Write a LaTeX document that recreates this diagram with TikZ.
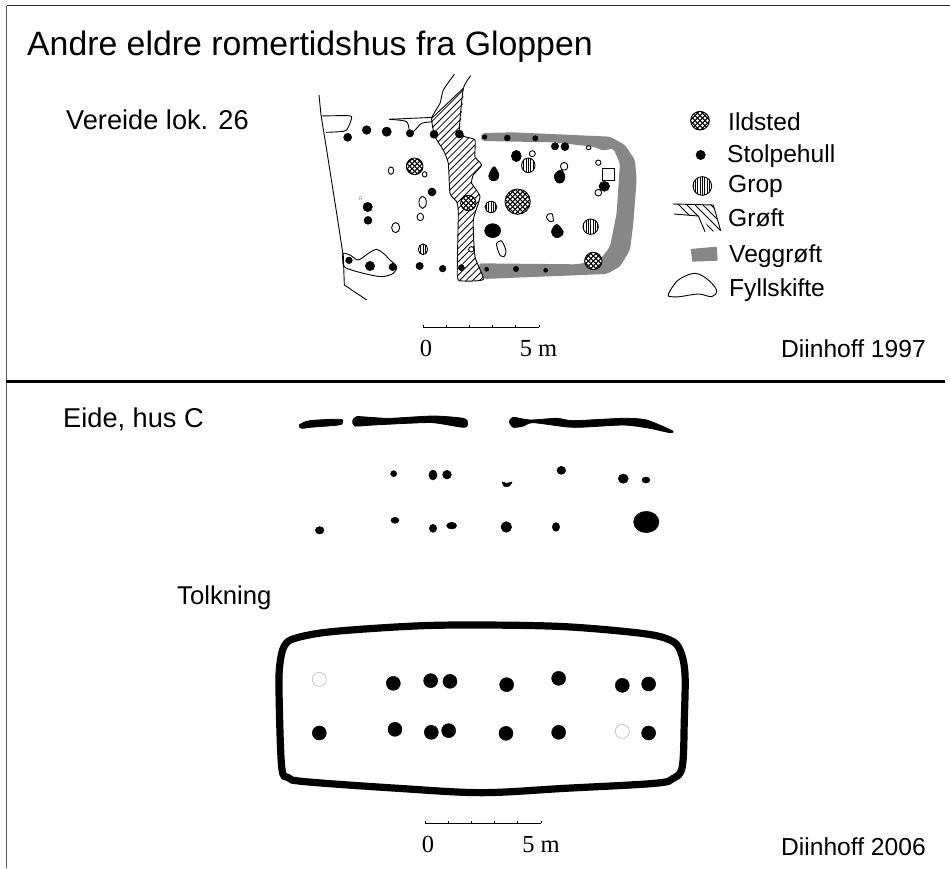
\documentclass[tikz,border=0pt]{standalone}
\usepackage{fontspec}
\setmainfont{Liberation Sans}
\newfontfamily\serifscale{Liberation Serif}
\usetikzlibrary{calc}
\tikzset{
  lab/.style={anchor=base west,inner sep=0pt,font=\fontsize{24.6}{27}\selectfont},
  scalelab/.style={anchor=base,inner sep=0pt,font=\serifscale\fontsize{24.5}{27}\selectfont},
  frameline/.style={draw=black!65,line width=1.6pt},
  ink/.style={draw=black,line width=0.9pt},
  hole/.style={fill=black,draw=black,line width=0.5pt},
  blob/.style={fill=black,draw=black,line width=0.8pt},
  openhole/.style={draw=black,fill=white,line width=0.9pt},
  wallgrey/.style={fill=black!47},
}
\newcommand{\ildsted}[3]{%
  \begin{scope}\clip (#1,#2) circle (#3);
   \fill[white] (#1,#2) circle (#3);
   \foreach \k in {-120,-105,...,120}{
     \draw[line width=1.05pt] ($(#1,#2)+(\k,0)+(-60,-60)$) -- ++(120,120);
     \draw[line width=1.05pt] ($(#1,#2)+(\k,0)+(60,-60)$) -- ++(-120,120);
   }
  \end{scope}
  \draw[line width=0.9pt] (#1,#2) circle (#3);}
\newcommand{\gropsym}[4]{%
  \begin{scope}\clip (#1,#2) ellipse ({#3} and {#4});
   \fill[white] (#1,#2) ellipse ({#3} and {#4});
   \foreach \k in {-35,-28,...,35}{
     \draw[line width=0.8pt] ($(#1,#2)+(\k,-40)$) -- ++(0,80);
   }
  \end{scope}
  \draw[line width=0.9pt] (#1,#2) ellipse ({#3} and {#4});}
\begin{document}
\begin{tikzpicture}[x=1pt,y=-1pt]
\useasboundingbox (0,0) rectangle (950,868);
\fill[white] (0,0) rectangle (950,868);
% frame
\coordinate (fa) at (6.5,868); \coordinate (fb) at (6.5,5.5); \coordinate (fc) at (950,5.5);
\draw[frameline] (fa) -- (fb);
\draw[black!85,line width=1.2pt] (fb) -- (fc);
\coordinate (da) at (6,381.5); \coordinate (db) at (945,381.5);
\draw[black,line width=2.8pt] (da) -- (db);
% texts
\node[lab,font=\fontsize{33.8}{36}\selectfont] (title) at (27,55) {Andre eldre romertidshus fra Gloppen};
\node[lab,font=\fontsize{27.2}{30}\selectfont] (vereide) at (66,129.5) {Vereide lok. 26};
\node[lab,font=\fontsize{27.2}{30}\selectfont] (eide) at (63,427) {Eide, hus C};
\node[lab,font=\fontsize{25.7}{28}\selectfont] (tolkning) at (177,604) {Tolkning};
\node[lab] (d97) at (781,357) {Diinhoff 1997};
\node[lab] (d06) at (781,855) {Diinhoff 2006};
\node[lab] (l1) at (728,130) {Ildsted};
\node[lab] (l2) at (727,162) {Stolpehull};
\node[lab] (l3) at (728,192) {Grop};
\node[lab] (l4) at (728,226) {Grøft};
\node[lab] (l5) at (729,262) {Veggrøft};
\node[lab] (l6) at (729,296) {Fyllskifte};
% upper plan, in zoom units
\begin{scope}[shift={(300,80)},x=0.3333pt,y=-0.3333pt]
 % wall trench
 \path[wallgrey,rounded corners=3pt] (640,157)--(930,170)--(975,195)--(1005,240)--(1010,300)--(1000,430)--(990,510)--(960,560)--(920,582)--(550,597)--(535,550)--(830,553)--(900,540)--(930,500)--(950,400)--(960,250)--(940,205)--(910,212)--(880,200)--(760,187)--(548,183)--(541,172)--(548,159)--cycle;
 % groeft
 \def\groeft{(395,115)(405,170)(430,210)(445,250)(450,340)(470,365)(475,400)(472,590)(490,603)(550,598)(525,530)(520,420)(540,350)(515,310)(520,285)(545,255)(525,230)(525,180)(495,170)(480,150)(490,25)}
 \begin{scope}
  \clip plot[smooth cycle,tension=0.2] coordinates {\groeft};
  \fill[white] (380,0) rectangle (560,610);
  \foreach \k in {140,160,...,760}{\draw[line width=0.8pt] (380,\k) -- ++(180,-180);}
 \end{scope}
 \draw[ink] (395,115) -- (490,25);
 \draw[ink] plot[smooth,tension=0.3] coordinates {(463,-17)(430,30)(420,70)(395,115)(405,170)(430,210)(445,250)(450,340)(470,365)(475,400)(472,590)(490,603)(550,598)(525,530)(520,420)(540,350)(515,310)(520,285)(545,255)(525,230)(525,180)(495,170)(478,150)(490,25)(512,-13)};
 % boundaries
 \draw[ink] (57,45) -- (63,105) -- (80,210) -- (110,400) -- (130,530) -- (133,615) -- (200,660);
 \draw[ink] plot[smooth,tension=0.4] coordinates {(63,108)(145,107)(155,115)(140,150)(120,155)(78,157)};
 \draw[ink] plot[smooth,tension=0.4] coordinates {(268,118)(320,125)(330,160)(345,150)(365,130)(398,125)};
 \draw[ink] (268,118) -- (398,112);
 \draw[ink] plot[smooth cycle,tension=0.5] coordinates {(130,520)(150,525)(175,540)(205,520)(230,508)(250,520)(270,540)(290,560)(280,580)(245,590)(190,580)(135,562)(128,535)};
 % ildsted, grop
 \ildsted{344}{259}{25}
 \ildsted{505}{369}{23}
 \ildsted{653}{365}{38}
 \ildsted{880}{543}{26}
 \gropsym{685}{256}{20}{22}
 \gropsym{573}{381}{18}{17}
 \gropsym{872}{440}{23}{23}
 \gropsym{369}{508}{14}{16}
 % open
 \foreach \x/\y/\a/\b in {273/272/8/11,374/283/7/8,368/367/11/18,361/411/10/11,287/443/12/15,697/221/9/9,895/248/8/8,866/203/7/6,514/508/8/8}
   \draw[openhole] (\x,\y) ellipse ({\a} and {\b});
 \draw[openhole] plot[smooth cycle,tension=0.5] coordinates {(590,490)(603,482)(612,495)(618,515)(612,530)(600,525)(592,505)};
 \draw[openhole] plot[smooth cycle,tension=0.3] coordinates {(745,402)(757,402)(760,423)(748,424)(739,412)};
 \draw[openhole,rounded corners=3pt] (782,248) rectangle (803,270);
 % solid
 \foreach \x/\y/\r in {143/172/12,200/150/13,260/155/14,330/160/11,402/163/12,478/162/12,396/336/12,203/381/14,204/421/12,147/541/10,210/558/14,278/561/11,359/558/11,428/566/10,484/563/9,554/171/7,622/174/9,706/175/8,560/568/6,648/567/8,737/571/6,765/199/11,795/200/12}
   \fill[hole] (\x,\y) circle (\r);
 \fill[hole] (649,228) ellipse (15 and 17);
 \fill[hole] (578,452) ellipse (24 and 21);
 \fill[hole] plot[smooth cycle,tension=0.6] coordinates {(582,260)(597,285)(590,300)(575,302)(566,288)};
 \fill[hole] plot[smooth cycle,tension=0.6] coordinates {(785,270)(795,290)(788,307)(772,308)(763,292)(768,278)};
 \fill[hole] plot[smooth cycle,tension=0.6] coordinates {(770,433)(790,455)(782,470)(765,472)(754,455)};
 \draw[openhole] (908,264) rectangle (944,300);
 \fill[hole] (913,319) ellipse (16 and 15);
 \draw[openhole] (895,338) circle (10);
 \node[inner sep=0pt,text=black!55,font=\fontsize{5}{5}\selectfont] (rmark) at (183,356) {R};
\end{scope}
% legend
\begin{scope}[shift={(650,100)},x=0.3333pt,y=-0.3333pt]
 \ildsted{150}{62}{28}
 \fill[hole] (152,165) circle (14);
 \gropsym{157}{258}{28}{28}
 \begin{scope}
  \clip (68,312) -- (190,315) -- (212,392) -- (183,395) -- (155,350) -- (72,342) -- cycle;
  \foreach \k in {100,124,...,400}{\draw[line width=0.8pt] (60,\k-100) -- ++(160,160);}
 \end{scope}
 \draw[ink] (68,312) -- (190,315) -- (212,392);
 \draw[ink] (72,342) -- (145,348) -- (165,395);
 \path[wallgrey] (122,447) -- (200,440) -- (203,482) -- (127,485) -- cycle;
 \draw[ink] plot[smooth cycle,tension=0.55] coordinates {(55,582)(85,540)(135,520)(175,540)(200,572)(185,590)(145,582)(90,590)(62,590)};
\end{scope}
% scale bars
\foreach \o/\yy/\nm in {423/327/a,425/823/b}{
 \coordinate (sb\nm) at (\o,\yy);
 \coordinate (se\nm) at (\o+116,\yy);
 \draw[line width=0.8pt] (sb\nm) -- (se\nm);
 \foreach \t in {0,23.2,...,116.1}{\draw[line width=0.8pt] (\o+\t,\yy) -- ++(0,-2.5);}
}
\node[scalelab] (z1) at (426,356) {0};
\node[scalelab] (f1) at (538.5,356) {5 m};
\node[scalelab] (z2) at (428,852) {0};
\node[scalelab] (f2) at (541,852) {5 m};
% lower plan walls
\begin{scope}[shift={(290,400)},x=0.3333pt,y=-0.3333pt]
 \path[blob] plot[smooth cycle,tension=0.5] coordinates {(28,75)(60,62)(150,58)(157,68)(145,75)(60,82)(35,85)};
 \path[blob] plot[smooth cycle,tension=0.4] coordinates {(188,62)(200,50)(240,52)(300,55)(430,48)(520,55)(533,68)(522,82)(430,68)(350,70)(250,75)(195,78)};
 \path[blob] plot[smooth cycle,tension=0.4] coordinates {(658,65)(670,52)(720,60)(800,55)(850,62)(1000,55)(1070,60)(1146,92)(1140,98)(1080,85)(1000,75)(850,82)(730,68)(700,78)(670,82)};
 \foreach \x/\y/\a/\b in {311/221/9/9,429/225/12/15,471/224/13/13,814/211/13/12,1000/236/15/14,1068/240/12/9,89/391/13/11,315/361/12/9,429/385/11/12,485/377/15/10,649/381/16/16,798/381/11/13,1069/366/38/32}
   \fill[hole] (\x,\y) ellipse ({\a} and {\b});
 \fill[hole] plot[smooth cycle,tension=0.5] coordinates {(637,246)(650,250)(666,246)(658,258)(643,259)};
\end{scope}
% interpretation
\begin{scope}[shift={(265,610)},x=0.3333pt,y=-0.3333pt]
 \draw[line width=7.2pt] plot[smooth cycle,tension=0.55] coordinates {(42,240)(45,160)(58,108)(90,85)(200,65)(450,48)(650,45)(900,50)(1130,70)(1215,90)(1245,120)(1260,190)(1258,330)(1252,470)(1225,505)(1170,520)(900,535)(650,548)(400,535)(120,515)(70,503)(50,470)};
 \foreach \x/\y in {385/220,497/212,555/214,725/224,881/205,1072/226,1151/222,163/369,390/358,499/367,551/362,723/370,881/367,1151/369}
   \fill[hole] (\x,\y) circle (21);
 \draw[black!25,line width=0.7pt] (163,208) circle (21);
 \draw[black!25,line width=0.7pt] (1072,364) circle (21);
\end{scope}
\end{tikzpicture}
\end{document}
